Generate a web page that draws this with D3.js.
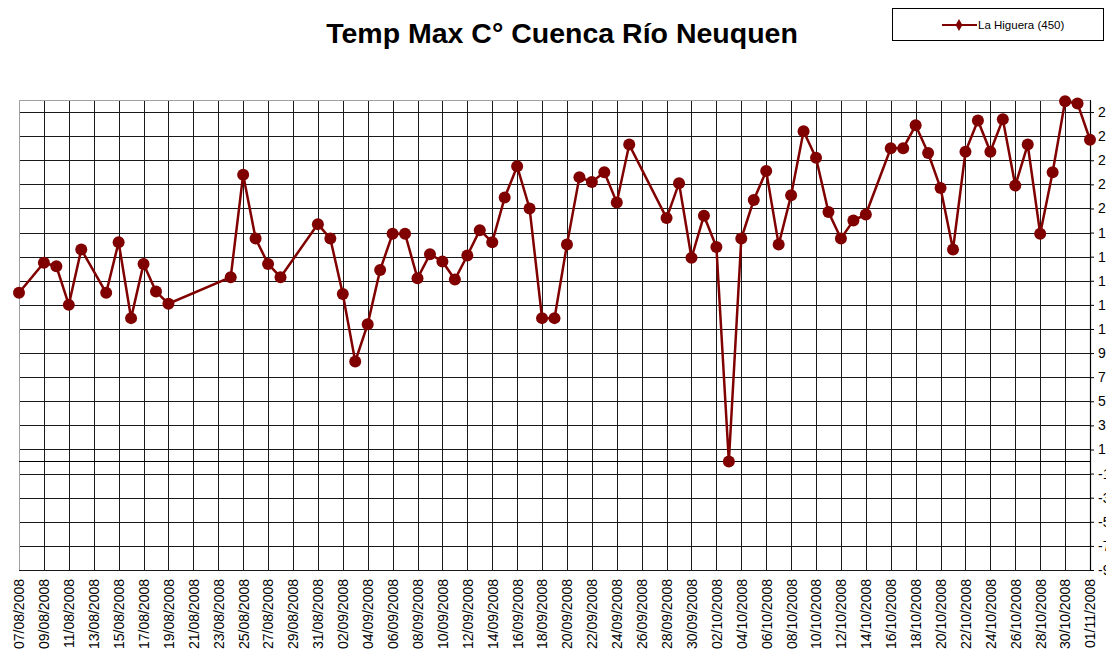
<!DOCTYPE html>
<html>
<head>
<meta charset="utf-8">
<script src="https://cdn.jsdelivr.net/npm/d3@7"></script>
<style>
  body { margin: 0; background: #fff; }
  svg { display: block; font-family: 'Liberation Sans', Arial, sans-serif; }
</style>
</head>
<body>
<div id="chart"></div>
<script>
const dates = [
  '07/08/2008', '09/08/2008', '10/08/2008', '11/08/2008', '12/08/2008', '14/08/2008', '15/08/2008',
  '16/08/2008', '17/08/2008', '18/08/2008', '19/08/2008', '24/08/2008', '25/08/2008', '26/08/2008',
  '27/08/2008', '28/08/2008', '31/08/2008', '01/09/2008', '02/09/2008', '03/09/2008', '04/09/2008',
  '05/09/2008', '06/09/2008', '07/09/2008', '08/09/2008', '09/09/2008', '10/09/2008', '11/09/2008',
  '12/09/2008', '13/09/2008', '14/09/2008', '15/09/2008', '16/09/2008', '17/09/2008', '18/09/2008',
  '19/09/2008', '20/09/2008', '21/09/2008', '22/09/2008', '23/09/2008', '24/09/2008', '25/09/2008',
  '28/09/2008', '29/09/2008', '30/09/2008', '01/10/2008', '02/10/2008', '03/10/2008', '04/10/2008',
  '05/10/2008', '06/10/2008', '07/10/2008', '08/10/2008', '09/10/2008', '10/10/2008', '11/10/2008',
  '12/10/2008', '13/10/2008', '14/10/2008', '16/10/2008', '17/10/2008', '18/10/2008', '19/10/2008',
  '20/10/2008', '21/10/2008', '22/10/2008', '23/10/2008', '24/10/2008', '25/10/2008', '26/10/2008',
  '27/10/2008', '28/10/2008', '29/10/2008', '30/10/2008', '31/10/2008', '01/11/2008'
];

const laHiguera = [
  14.0, 16.5, 16.2, 13.0, 17.6, 14.0, 18.2,
  11.9, 16.4, 14.1, 13.1, 15.3, 23.8, 18.5,
  16.4, 15.3, 19.7, 18.5, 13.9, 8.3, 11.4,
  15.9, 18.9, 18.9, 15.2, 17.2, 16.6, 15.1,
  17.1, 19.2, 18.2, 21.9, 24.5, 21.0, 11.9,
  11.9, 18.0, 23.6, 23.2, 24.0, 21.5, 26.3,
  20.2, 23.1, 16.9, 20.4, 17.8, 0.0, 18.5,
  21.7, 24.1, 18.0, 22.1, 27.4, 25.2, 20.7,
  18.5, 20.0, 20.5, 26.0, 26.0, 27.9, 25.6,
  22.7, 17.6, 25.7, 28.3, 25.7, 28.4, 22.9,
  26.3, 18.9, 24.0, 29.9, 29.7, 26.7
];

const xTickLabels = [
  '07/08/2008', '09/08/2008', '11/08/2008', '13/08/2008', '15/08/2008', '17/08/2008', '19/08/2008',
  '21/08/2008', '23/08/2008', '25/08/2008', '27/08/2008', '29/08/2008', '31/08/2008', '02/09/2008',
  '04/09/2008', '06/09/2008', '08/09/2008', '10/09/2008', '12/09/2008', '14/09/2008', '16/09/2008',
  '18/09/2008', '20/09/2008', '22/09/2008', '24/09/2008', '26/09/2008', '28/09/2008', '30/09/2008',
  '02/10/2008', '04/10/2008', '06/10/2008', '08/10/2008', '10/10/2008', '12/10/2008', '14/10/2008',
  '16/10/2008', '18/10/2008', '20/10/2008', '22/10/2008', '24/10/2008', '26/10/2008', '28/10/2008',
  '30/10/2008', '01/11/2008'
];

const yTicks = [-9, -7, -5, -3, -1, 1, 3, 5, 7, 9, 11, 13, 15, 17, 19, 21, 23, 25, 27, 29];
const yDomain = [-9, 30];

const seriesName = 'La Higuera (450)';
const chartTitle = 'Temp Max C° Cuenca Río Neuquen';

const width = 1106,
  height = 654,
  plot = { left: 19, right: 1090, top: 100, bottom: 570 },
  seriesColor = '#800000',
  parseTime = d3.utcParse('%d/%m/%Y'),
  formatTime = d3.utcFormat('%d/%m/%Y');

const data = dates.map((d, i) => ({ date: parseTime(d), value: laHiguera[i] }));
const tickDates = xTickLabels.map(parseTime);

const x = d3
  .scaleUtc()
  .domain([tickDates[0], tickDates[tickDates.length - 1]])
  .range([plot.left, plot.right]);

const y = d3
  .scaleLinear()
  .domain(yDomain)
  .range([plot.bottom, plot.top]);

const svg = d3
  .select('#chart')
  .append('svg')
  .attr('width', width)
  .attr('height', height);

// title
svg
  .append('text')
  .attr('x', 562)
  .attr('y', 43)
  .attr('text-anchor', 'middle')
  .attr('font-size', 28.5)
  .attr('font-weight', 'bold')
  .text(chartTitle);

// vertical gridlines + date labels
const xAxis = svg
  .append('g')
  .attr('transform', `translate(0,${plot.bottom})`)
  .call(
    d3.axisBottom(x)
      .tickValues(tickDates)
      .tickFormat(formatTime)
      .tickSize(-(plot.bottom - plot.top))
      .tickSizeOuter(0)
  );

xAxis.select('.domain').attr('stroke', '#000');
xAxis.selectAll('.tick line').attr('stroke', '#1a1a1a').attr('shape-rendering', 'crispEdges');
xAxis
  .selectAll('.tick text')
  .attr('font-size', 14)
  .attr('fill', '#000')
  .attr('text-anchor', 'end')
  .attr('transform', 'translate(0,9) rotate(-90)')
  .attr('x', 0)
  .attr('y', 0)
  .attr('dy', '0.35em');

// horizontal gridlines
svg
  .append('g')
  .attr('transform', `translate(${plot.right},0)`)
  .call(
    d3.axisRight(y)
      .tickValues(yTicks)
      .tickFormat('')
      .tickSize(-(plot.right - plot.left))
      .tickSizeOuter(0)
  )
  .call(g => g.select('.domain').remove())
  .call(g => g.selectAll('.tick line').attr('stroke', '#1a1a1a').attr('shape-rendering', 'crispEdges'));

// right value axis with labels (cut by the page edge, as in the original)
const yAxis = svg
  .append('g')
  .attr('transform', `translate(${plot.right},0)`)
  .call(
    d3.axisRight(y)
      .tickValues(yTicks)
      .tickFormat(d => String(d))
      .tickSize(4)
      .tickSizeOuter(0)
  );

yAxis.select('.domain').attr('stroke', '#000').attr('stroke-width', 1.2);
yAxis.selectAll('.tick line').attr('stroke', '#000');
yAxis.selectAll('.tick text').attr('font-size', 14).attr('fill', '#000').attr('x', 8);

// plot area border (top and left) in grey
svg
  .append('path')
  .attr('d', `M${plot.left},${plot.bottom}V${plot.top}H${plot.right}`)
  .attr('fill', 'none')
  .attr('stroke', '#a0a0a0')
  .attr('shape-rendering', 'crispEdges');

// category axis crossing at zero
svg
  .append('line')
  .attr('x1', plot.left)
  .attr('x2', plot.right)
  .attr('y1', y(0))
  .attr('y2', y(0))
  .attr('stroke', '#000')
  .attr('shape-rendering', 'crispEdges');

// series
const lineFn = d3
  .line()
  .x(d => x(d.date))
  .y(d => y(d.value));

svg
  .append('path')
  .datum(data)
  .attr('d', lineFn)
  .attr('fill', 'none')
  .attr('stroke', seriesColor)
  .attr('stroke-width', 2.5);

svg
  .append('g')
  .selectAll('circle')
  .data(data)
  .enter()
  .append('circle')
  .attr('cx', d => x(d.date))
  .attr('cy', d => y(d.value))
  .attr('r', 6)
  .attr('fill', seriesColor);

// legend
const legend = svg.append('g');

legend
  .append('rect')
  .attr('x', 892.5)
  .attr('y', 8.5)
  .attr('width', 211)
  .attr('height', 32)
  .attr('fill', '#fff')
  .attr('stroke', '#000');

legend
  .append('line')
  .attr('x1', 942)
  .attr('x2', 977)
  .attr('y1', 25)
  .attr('y2', 25)
  .attr('stroke', seriesColor)
  .attr('stroke-width', 2);

legend
  .append('path')
  .attr('d', d3.symbol(d3.symbolDiamond, 40)())
  .attr('transform', 'translate(959,25)')
  .attr('fill', seriesColor);

legend
  .append('text')
  .attr('x', 978)
  .attr('y', 29)
  .attr('font-size', 11.5)
  .text(seriesName);
</script>
</body>
</html>
